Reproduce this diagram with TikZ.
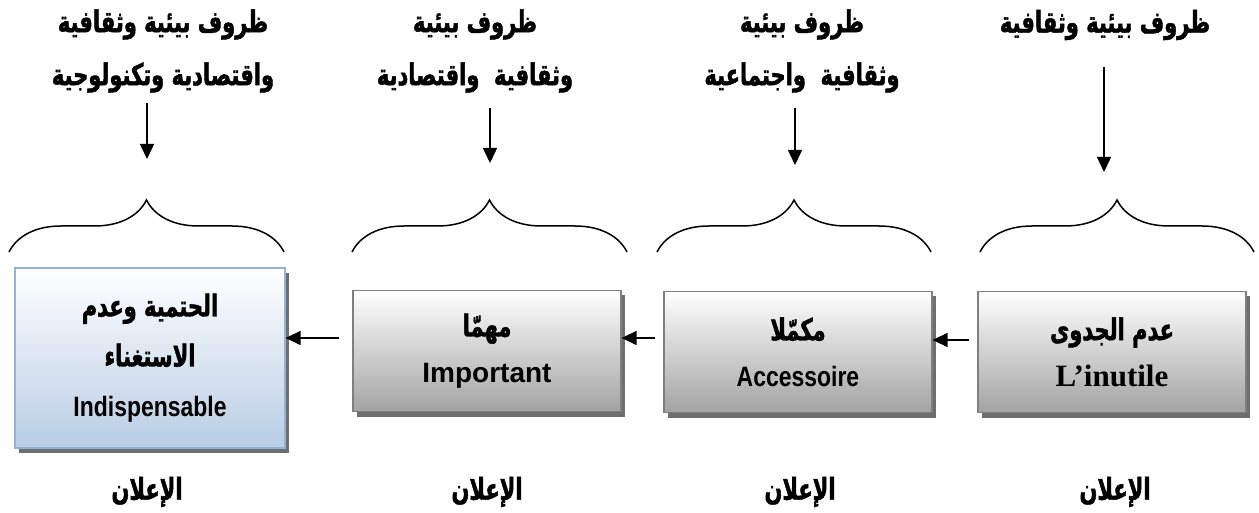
\documentclass[tikz,border=0pt]{standalone}
\usepackage{fontspec}
\setmainfont{Liberation Serif}
\setsansfont{Liberation Sans}
\newfontfamily\arabicfont[Script=Arabic, FakeStretch=0.7, FakeBold=1.5]{DejaVu Sans}
\newfontfamily\narrowfont[FakeStretch=0.82]{Liberation Sans}
\TeXXeTstate=1
\newcommand{\artext}[1]{{\arabicfont\bfseries\beginR #1\endR}}
\usepackage{tikz}
\usetikzlibrary{positioning, arrows.meta, shadows, decorations.pathreplacing, calc}

\definecolor{edgegray}{HTML}{7F7F7F}
\definecolor{boxgray}{HTML}{A3A3A3}
\definecolor{edgeblue}{HTML}{95B3D7}
\definecolor{boxblue}{HTML}{B9CDE5}
\definecolor{shadowgray}{HTML}{6E6E6E}

\begin{document}
\begin{tikzpicture}[
    x=1pt, y=-1pt,
    every node/.style={inner sep=0pt},
    graybox/.style={rectangle, draw=edgegray, line width=1.3pt, minimum width=268pt, minimum height=121pt, align=center, top color=white, bottom color=boxgray, drop shadow={shadow xshift=4pt, shadow yshift=-5pt, fill=shadowgray, opacity=1}, font=\fontsize{30}{46}\selectfont},
    bluebox/.style={graybox, draw=edgeblue, top color=white, bottom color=boxblue, minimum width=270pt, minimum height=180pt, font=\fontsize{30}{50}\selectfont},
    toptext/.style={align=center, font=\fontsize{30}{53}\selectfont},
    curly/.style={decorate, decoration={brace, amplitude=52pt}, line width=1.5pt},
    down/.style={-{Triangle[length=15pt, width=14pt]}, line width=1.5pt},
    flow/.style={-{Triangle[length=15pt, width=14pt]}, line width=1.5pt}
]
    \useasboundingbox (0,0) rectangle (1259,513);

    % boxes
    \node[bluebox] (b1) at (150,358) {\artext{الحتمية وعدم}\\ \artext{الاستغناء}\\ {\fontsize{28}{34}\selectfont\narrowfont\bfseries Indispensable}};
    \node[graybox] (b2) at (487,351) {\artext{مهمّا}\\ {\fontsize{28}{34}\selectfont\sffamily\bfseries Important}};
    \node[graybox] (b3) at (798,352) {\artext{مكمّلا}\\ {\fontsize{28}{34}\selectfont\narrowfont\bfseries Accessoire}};
    \node[graybox] (b4) at (1112,352) {\artext{عدم الجدوى}\\ {\fontsize{31}{34}\selectfont\bfseries L’inutile}};

    % texts above
    \node[toptext] (t1) at (163,51) {\artext{ظروف بيئية وثقافية}\\ \artext{واقتصادية وتكنولوجية}};
    \node[toptext] (t2) at (475,51) {\artext{ظروف بيئية}\\ \artext{وثقافية~ واقتصادية}};
    \node[toptext] (t3) at (802,51) {\artext{ظروف بيئية}\\ \artext{وثقافية~ واجتماعية}};
    \node[toptext] (t4) at (1105,25) {\artext{ظروف بيئية وثقافية}};

    % labels below
    \foreach \n/\x in {1/147, 2/487, 3/800, 4/1115}
        \node[toptext] (l\n) at (\x,492) {\artext{الإعلان}};

    % braces and arrows
    \foreach \a/\b in {9/284, 352/627, 657/931, 980/1254}
        \draw[curly] (\a,252) -- (\b,252);
    \foreach \n/\x/\ya/\yb in {1/147/103/159, 2/490/108/163, 3/795/108/165, 4/1104/67/172} {
        \coordinate (top\n) at (\x,\ya);
        \coordinate (tip\n) at (\x,\yb);
        \draw[down] (top\n) -- (tip\n);
    }

    \draw[flow] ($(b2.west |- 0,338)+(-13,0)$) -- (b1.east |- 0,338);
    \draw[flow] ($(b3.west |- 0,338)+(-8,0)$) -- (b2.east |- 0,338);
    \draw[flow] ($(b4.west |- 0,340)+(-8,0)$) -- (b3.east |- 0,340);
\end{tikzpicture}
\end{document}
